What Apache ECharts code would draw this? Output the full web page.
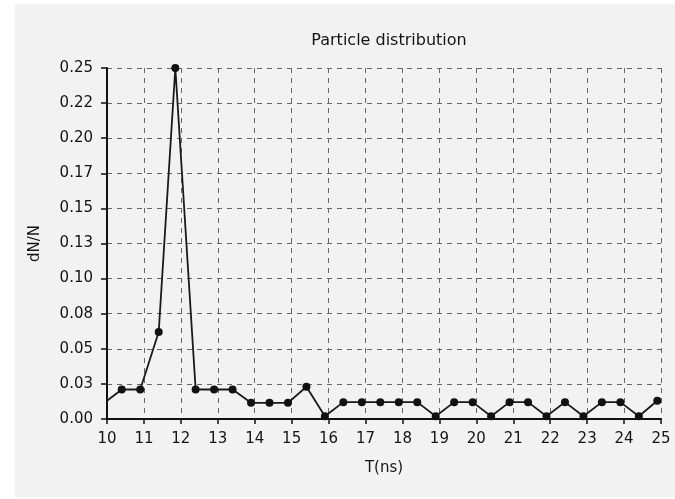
<!DOCTYPE html>
<html>
<head>
<meta charset="utf-8">
<script src="https://cdn.jsdelivr.net/npm/echarts@6/dist/echarts.min.js"></script>
<style>
  html, body { margin: 0; padding: 0; background: #fff; }
  #chart { width: 675px; height: 499px; }
</style>
</head>
<body>
<div id="chart"></div>
<script>
// T(ns) positions of the samples and their dN/N values
var t_ns = [10.0, 10.4, 10.9, 11.4, 11.85, 12.4, 12.9, 13.4, 13.9, 14.4, 14.9, 15.4, 15.9,
            16.4, 16.9, 17.4, 17.9, 18.4, 18.9, 19.4, 19.9, 20.4, 20.9, 21.4, 21.9,
            22.4, 22.9, 23.4, 23.9, 24.4, 24.9];
var dnn = [0.013, 0.021, 0.021, 0.062, 0.25, 0.021, 0.021, 0.021, 0.0115, 0.0115, 0.0115, 0.023, 0.002,
           0.012, 0.012, 0.012, 0.012, 0.012, 0.002, 0.012, 0.012, 0.002, 0.012, 0.012, 0.002,
           0.012, 0.002, 0.012, 0.012, 0.002, 0.013];
var y_tick_labels = ['0.00', '0.03', '0.05', '0.08', '0.10', '0.13', '0.15', '0.17', '0.20', '0.22', '0.25'];

var points = [];
for (var i = 0; i < t_ns.length; i++) {
    var p = { value: [t_ns[i], dnn[i]] };
    if (i === 0) p.symbol = 'none'; // line starts at the axis edge, no dot there
    points.push(p);
}

var txt = '#141414';
var font = 'DejaVu Sans';

var myChart = echarts.init(document.getElementById('chart'), null, { renderer: 'canvas' });
var option = {
    backgroundColor: '#ffffff',
    animation: false,
    graphic: [{
        type: 'rect',
        z: -10,
        shape: { x: 15, y: 4, width: 660, height: 493 },
        style: { fill: '#f2f2f2' }
    }],
    title: {
        text: 'Particle distribution',
        left: 384,
        textAlign: 'center',
        top: 28,
        textStyle: { fontFamily: font, fontSize: 16, fontWeight: 'normal', color: txt }
    },
    grid: { left: 107, right: 14, top: 68, bottom: 80, containLabel: false },
    xAxis: {
        type: 'value',
        min: 10,
        max: 25,
        interval: 1,
        name: 'T(ns)',
        nameLocation: 'middle',
        nameGap: 42,
        nameTextStyle: { fontFamily: font, fontSize: 15, color: txt },
        axisLine: { show: true, onZero: false, lineStyle: { color: '#111', width: 2 } },
        axisTick: { show: true, length: 5, lineStyle: { color: '#111', width: 1.5 } },
        axisLabel: { fontFamily: font, fontSize: 15, color: txt, margin: 13 },
        splitLine: { show: true, lineStyle: { color: '#666', type: [5, 5], width: 1 } }
    },
    yAxis: {
        type: 'value',
        min: 0,
        max: 0.25,
        interval: 0.025,
        name: 'dN/N',
        nameLocation: 'middle',
        nameGap: 64,
        nameTextStyle: { fontFamily: font, fontSize: 15, color: txt },
        axisLine: { show: true, lineStyle: { color: '#111', width: 2 } },
        axisTick: { show: true, length: 6, lineStyle: { color: '#111', width: 1.5 } },
        axisLabel: {
            fontFamily: font, fontSize: 15, color: txt, margin: 14,
            formatter: function (v) {
                return y_tick_labels[Math.round(v / 0.025)];
            }
        },
        splitLine: { show: true, lineStyle: { color: '#666', type: [5, 5], width: 1 } }
    },
    series: [{
        name: 'dN/N',
        type: 'line',
        data: points,
        symbol: 'circle',
        symbolSize: 8,
        showAllSymbol: true,
        lineStyle: { color: '#1a1a1a', width: 1.8 },
        itemStyle: { color: '#111' },
        z: 5
    }]
};
myChart.setOption(option);
</script>
</body>
</html>
